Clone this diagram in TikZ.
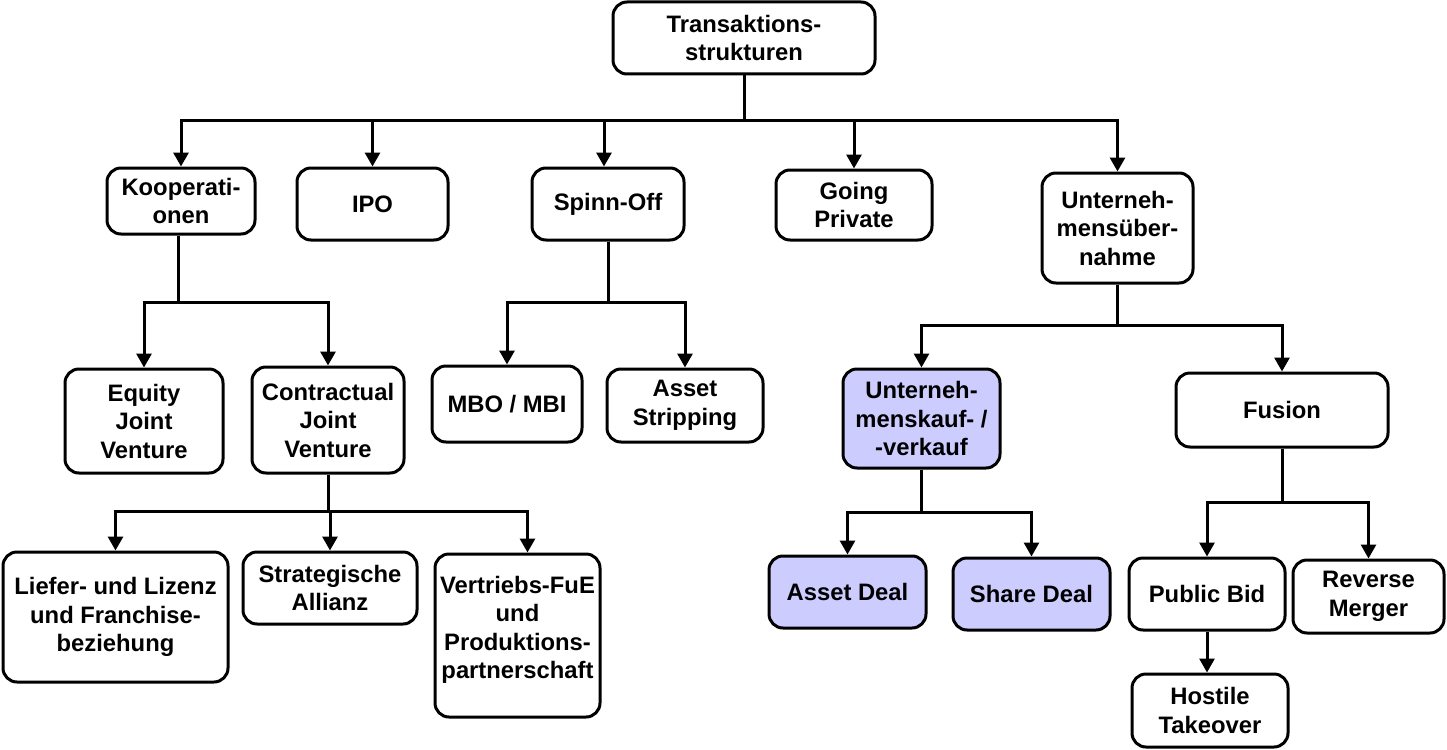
\documentclass[tikz,border=0pt]{standalone}
\usepackage{fontspec}
\setmainfont{Liberation Sans}
\usetikzlibrary{arrows.meta,calc}
\definecolor{lav}{HTML}{CCCCFF}
\begin{document}
\begin{tikzpicture}[x=1pt,y=-1pt,
  box/.style={draw, line width=3pt, rounded corners=14pt, align=center, inner sep=0pt,
    font=\fontsize{23.8}{28.5}\selectfont\bfseries},
  hl/.style={box, fill=lav},
  con/.style={line width=3pt},
  arr/.style={con, -{Triangle[width=15pt,length=14pt]}}]
\useasboundingbox (0,0) rectangle (1447,749);
% level 0
\node[box, minimum width=262pt, minimum height=72pt] (top) at (744,38) {Transaktions-\\strukturen};
% level 1
\node[box, minimum width=148pt, minimum height=66pt] (koop) at (181,201) {Kooperati-\\onen};
\node[box, minimum width=151pt, minimum height=72pt] (ipo) at (372.5,204) {IPO};
\node[box, minimum width=152pt, minimum height=72pt] (spinn) at (608,204) {Spinn-Off};
\node[box, minimum width=156pt, minimum height=70pt] (going) at (854,205) {Going\\Private};
\node[box, minimum width=151pt, minimum height=110pt] (ueber) at (1117.5,228) {Unterneh-\\mensüber-\\nahme};
% level 2
\node[box, minimum width=158pt, minimum height=104pt] (equity) at (144,421) {Equity\\Joint\\Venture};
\node[box, minimum width=152pt, minimum height=106pt] (contr) at (328,420) {Contractual\\Joint\\Venture};
\node[box, minimum width=150pt, minimum height=76pt] (mbo) at (507,404) {MBO / MBI};
\node[box, minimum width=156pt, minimum height=73pt] (astrip) at (685,405.5) {Asset\\Stripping};
\node[hl, minimum width=157pt, minimum height=99pt] (ukauf) at (921.5,418.5) {Unterneh-\\menskauf- /\\-verkauf};
\node[box, minimum width=212pt, minimum height=74pt] (fusion) at (1282,410) {Fusion};
% level 3
\node[box, minimum width=225pt, minimum height=130pt] (liefer) at (115.5,617) {Liefer- und Lizenz\\und Franchise-\\beziehung};
\node[box, minimum width=174pt, minimum height=72pt] (strat) at (330,588) {Strategische\\Allianz};
\node[box, minimum width=165pt, minimum height=163pt] (vertr) at (517.5,635.5) {Vertriebs-FuE\\und\\Produktions-\\partnerschaft\\[-12pt]\mbox{}};
\node[hl, minimum width=157pt, minimum height=72pt] (adeal) at (847.5,592) {Asset Deal};
\node[hl, minimum width=157pt, minimum height=72pt] (sdeal) at (1031.5,594) {Share Deal};
\node[box, minimum width=156pt, minimum height=72pt] (public) at (1207,594) {Public Bid};
\node[box, minimum width=151pt, minimum height=73pt] (reverse) at (1368.5,596.5) {Reverse\\Merger};
\node[box, minimum width=156pt, minimum height=73pt] (hostile) at (1210,710.5) {Hostile\\Takeover};
% connectors from top
\coordinate (b0) at (744,121);
\draw[con] (top.south) -- (b0);
\draw[arr] (b0) -| (koop.north);
\draw[arr] (b0) -| (ipo.north);
\draw[arr] (b0) -| ($(spinn.north)+(-4,0)$);
\draw[arr] (b0) -| (going.north);
\draw[arr] (b0) -| (ueber.north);
% Kooperationen
\coordinate (b1) at (178,302);
\draw[con] (koop.south -| b1) -- (b1);
\draw[arr] (b1) -| (equity.north);
\draw[arr] (b1) -| (contr.north);
% Spinn-Off
\coordinate (b2) at (608,302);
\draw[con] (spinn.south) -- (b2);
\draw[arr] (b2) -| (mbo.north);
\draw[arr] (b2) -| (astrip.north);
% Unternehmensuebernahme
\coordinate (b3) at (1117.5,325);
\draw[con] (ueber.south) -- (b3);
\draw[arr] (b3) -| (ukauf.north);
\draw[arr] (b3) -| (fusion.north);
% Contractual JV
\coordinate (b4) at (328,511);
\draw[con] (contr.south) -- (b4);
\draw[arr] (b4) -| (liefer.north);
\draw[arr] (b4) -| (strat.north);
\draw[arr] (b4) -| ($(vertr.north)+(10,0)$);
% Unternehmenskauf
\coordinate (b5) at (921.5,512);
\draw[con] (ukauf.south) -- (b5);
\draw[arr] (b5) -| (adeal.north);
\draw[arr] (b5) -| (sdeal.north);
% Fusion
\coordinate (b6) at (1282,502);
\draw[con] (fusion.south) -- (b6);
\draw[arr] (b6) -| (public.north);
\draw[arr] (b6) -| (reverse.north);
% Public Bid -> Hostile
\draw[arr] (public.south) -- (public.south |- hostile.north);
\end{tikzpicture}
\end{document}
